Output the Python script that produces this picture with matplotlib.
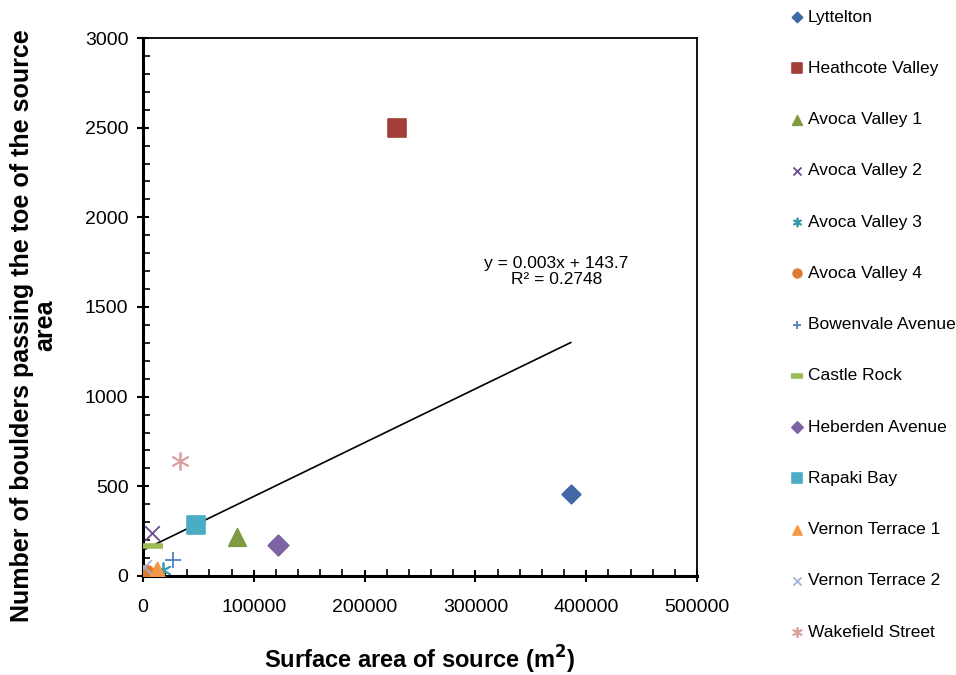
import matplotlib.pyplot as plt
from matplotlib.ticker import MultipleLocator

plt.rcParams['font.family'] = ['Liberation Sans', 'DejaVu Sans']

# Rockfall source areas (m2) and boulder counts passing the source toe
sites = ["Lyttelton", "Heathcote Valley", "Avoca Valley 1", "Avoca Valley 2",
         "Avoca Valley 3", "Avoca Valley 4", "Bowenvale Avenue", "Castle Rock",
         "Heberden Avenue", "Rapaki Bay", "Vernon Terrace 1", "Vernon Terrace 2",
         "Wakefield Street"]
area = [386000, 229000, 85000, 8000, 18000, 2500, 27000, 9000,
        122000, 48000, 12500, 500, 33500]
boulders = [455, 2500, 220, 240, 35, 15, 90, 165, 175, 285, 35, 50, 640]

markers = ["D", "s", "^", "x", (6, 2, 0), "o", "+", "_", "D", "s", "^", "x", (6, 2, 0)]
colors = ["#4169A5", "#A33E3B", "#7E9B42", "#6A4C8C", "#3A9AB0", "#DD7B33",
          "#4E7FC0", "#9BBB59", "#7D62A4", "#4BACC6", "#F79646", "#9DB6D8", "#D9A3A1"]
sizes = [90, 160, 160, 110, 110, 130, 120, 220, 110, 170, 140, 110, 150]

slope = 0.003
intercept = 143.7
r_squared = 0.2748

fig = plt.figure(figsize=(9.56, 6.75), dpi=100)
ax = fig.add_axes([0.1496, 0.1467, 0.5795, 0.797])

for name, x, y, m, c, s in zip(sites, area, boulders, markers, colors, sizes):
    filled = m not in ("x", "+", "_") and not isinstance(m, tuple)
    ax.scatter([x], [y], marker=m, s=s, color=c, label=name, zorder=3,
               linewidths=1.2 if filled else (4 if m == "_" else 1.3))

# Linear trendline over the range of the data
x_fit = [min(area), max(area)]
ax.plot(x_fit, [slope * v + intercept for v in x_fit], color="black", lw=1.2, zorder=2)
ax.text(373000, 1700, f"y = {slope:.3f}x + {intercept}\nR² = {r_squared}",
        ha="center", va="center", fontsize=12.5, linespacing=1.1)

ax.set_xlim(0, 500000)
ax.set_ylim(0, 3000)
ax.xaxis.set_major_locator(MultipleLocator(100000))
ax.xaxis.set_minor_locator(MultipleLocator(20000))
ax.yaxis.set_major_locator(MultipleLocator(500))
ax.yaxis.set_minor_locator(MultipleLocator(100))
ax.tick_params(which="major", direction="inout", length=9, width=1.5,
               labelsize=14, pad=12)
ax.tick_params(axis="y", which="major", pad=6)
ax.tick_params(which="minor", direction="in", length=5, width=1.2)

for side in ("left", "bottom"):
    ax.spines[side].set_linewidth(2.2)
for side in ("top", "right"):
    ax.spines[side].set_linewidth(1.3)

ax.set_xlabel("Surface area of source (m$^\\mathbf{2}$)", fontsize=17,
              fontweight="bold", labelpad=20)
ax.set_ylabel("Number of boulders passing the toe of the source\narea",
              fontsize=18, fontweight="bold", linespacing=0.95)
ax.yaxis.set_label_coords(-0.155, 0.466)

ax.legend(loc="upper left", bbox_to_anchor=(1.15, 1.066), frameon=False,
          fontsize=12.5, labelspacing=2.08, handletextpad=0.0, handlelength=1.2,
          markerscale=0.55, borderaxespad=0)

fig.savefig("out.png", dpi=100)
